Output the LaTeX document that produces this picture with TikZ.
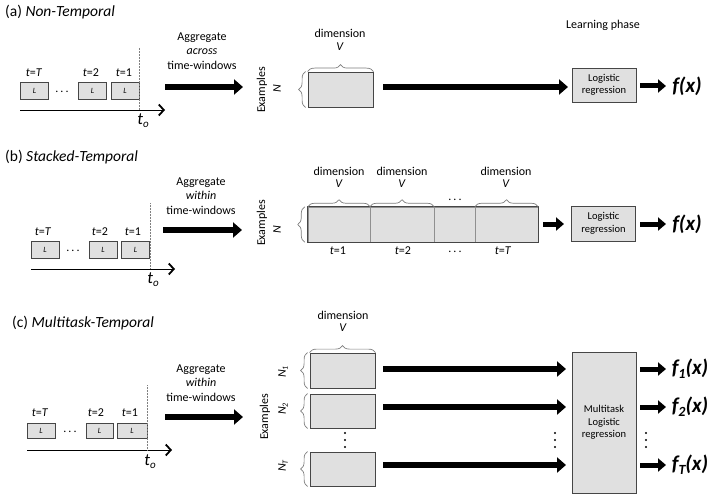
\documentclass[tikz,border=0pt]{standalone}
\usepackage{fontspec}
\setmainfont{Carlito}
\usetikzlibrary{arrows.meta,decorations.pathreplacing}
\definecolor{boxfill}{RGB}{224,224,224}
\definecolor{boxline}{RGB}{70,70,70}
\definecolor{bracegray}{RGB}{125,125,125}

\begin{document}
\begin{tikzpicture}[x=1pt, y=-1pt,
		every node/.style={inner sep=0pt},
		f12/.style={font=\fontsize{12}{14.5}\selectfont},
		title/.style={anchor=west, font=\fontsize{15.5}{18}\selectfont},
		lbox/.style={draw=boxline, fill=boxfill, line width=0.8pt, minimum width=28pt, minimum height=17pt, font=\fontsize{8}{9}\selectfont\itshape},
		dbox/.style={draw=boxline, fill=boxfill, line width=0.8pt, minimum width=65pt, minimum height=35pt},
		lrbox/.style={draw=boxline, fill=boxfill, line width=0.8pt, align=center, minimum width=64pt, minimum height=34pt, font=\fontsize{10.5}{12.5}\selectfont},
		brc/.style={draw=bracegray, line width=0.7pt, decorate, decoration={brace, amplitude=7pt}},
		axis/.style={line width=0.9pt, -{Straight Barb[length=5pt, width=11pt, line width=1.8pt]}},
		now/.style={gray, line width=0.5pt, densely dotted},
		tnow/.style={font=\fontsize{17}{17}\selectfont\itshape},
		fat/.style={line width=6pt, -{Triangle[length=9pt, width=15pt]}},
		fatsm/.style={line width=5pt, -{Triangle[length=8pt, width=13pt]}},
		fx/.style={font=\fontsize{21}{21}\selectfont\bfseries\itshape},
		vd/.style={minimum width=3pt, minimum height=16pt}]
	\useasboundingbox (0,0) rectangle (714,500);

	% (a) non-temporal
	\node[title] (tta) at (5,12) {(a) \textit{Non-Temporal}};
	\node[lbox] (a1) at (34.5,90.5) {L};
	\node[lbox] (a2) at (92.5,90.5) {L};
	\node[lbox] (a3) at (125,90.5) {L};
	\node[f12] (dta) at (62,92) {.\,.\,.};
	\node[f12] (a1t) at (34,73) {\textit{t}=\textit{T}};
	\node[f12] (a2t) at (91,73) {\textit{t}=2};
	\node[f12] (a3t) at (124,73) {\textit{t}=1};
	\coordinate (xa0) at (20,110);
	\coordinate (xa1) at (165,110);
	\coordinate (nowa) at (139,48);
	\draw[axis] (xa0) -- (xa1);
	\draw[now] (nowa) -- (nowa |- xa0);
	\node[tnow] (toa) at (143,121) {t\raisebox{-3pt}{\fontsize{11}{11}\selectfont o}};

	\node[f12, align=center] (aga) at (202,51) {Aggregate\\\textit{across}\\time-windows};
	\coordinate (ga0) at (165,87);
	\coordinate (ga1) at (243,87);
	\draw[fat] (ga0) -- (ga1);

	\node[f12, rotate=90] (exa) at (262,90) {Examples};
	\node[f12, rotate=90] (na) at (277,89) {\textit{N}};
	\node[dbox] (ra) at (340.5,89.5) {};
	\draw[brc] ([xshift=-2pt]ra.south west) -- ([xshift=-2pt]ra.north west);
	\draw[brc] (ra.north west) -- (ra.north east);
	\node[f12] (dima) at (340,33) {dimension};
	\node[f12] (va) at (340,47) {\textit{V}};

	\coordinate (la0) at (383,87);
	\coordinate (la1) at (568,87);
	\draw[fat] (la0) -- (la1);
	\node[f12] (lp) at (603,25) {Learning phase};
	\node[lrbox] (lra) at (604,85) {Logistic\\regression};
	\coordinate (fa0) at (640,86);
	\coordinate (fa1) at (666,86);
	\draw[fatsm] (fa0) -- (fa1);
	\node[fx] (fa) at (687,86) {f(x)};

	% (b) stacked-temporal
	\node[title] (ttb) at (5,157) {(b) \textit{Stacked-Temporal}};
	\node[lbox] (b1) at (45,249.5) {L};
	\node[lbox] (b2) at (103,249.5) {L};
	\node[lbox] (b3) at (135.5,249.5) {L};
	\node[f12] (dtb) at (73,251) {.\,.\,.};
	\node[f12] (b1t) at (43,232) {\textit{t}=\textit{T}};
	\node[f12] (b2t) at (100,232) {\textit{t}=2};
	\node[f12] (b3t) at (133,232) {\textit{t}=1};
	\coordinate (xb0) at (31,269);
	\coordinate (xb1) at (175,269);
	\coordinate (nowb) at (150,203);
	\draw[axis] (xb0) -- (xb1);
	\draw[now] (nowb) -- (nowb |- xb0);
	\node[tnow] (tob) at (153,280) {t\raisebox{-3pt}{\fontsize{11}{11}\selectfont o}};

	\node[f12, align=center] (agb) at (201,196) {Aggregate\\\textit{within}\\time-windows};
	\coordinate (gb0) at (163,230);
	\coordinate (gb1) at (242,230);
	\draw[fat] (gb0) -- (gb1);

	\node[f12, rotate=90] (exb) at (262,223) {Examples};
	\node[f12, rotate=90] (nb) at (277,230) {\textit{N}};
	\node[dbox, draw=boxline!60, line width=0.5pt, minimum width=62pt] (rb1) at (339,224.5) {};
	\node[dbox, draw=boxline!60, line width=0.5pt, minimum width=64pt] (rb2) at (402,224.5) {};
	\node[dbox, draw=boxline!60, line width=0.5pt, minimum width=41pt] (rb3) at (454.5,224.5) {};
	\node[dbox, draw=boxline!60, line width=0.5pt, minimum width=63pt] (rb4) at (506.5,224.5) {};
	\draw[boxline, line width=0.8pt] (rb1.north west) rectangle (rb4.south east);
	\draw[brc] ([xshift=-3pt]rb1.south west) -- ([xshift=-3pt]rb1.north west);
	\draw[brc] (rb1.north west) -- (rb1.north east);
	\draw[brc] (rb2.north west) -- (rb2.north east);
	\draw[brc] (rb4.north west) -- (rb4.north east);
	\node[f12] (dimb1) at (339,171) {dimension};
	\node[f12] (vb1) at (339,184) {\textit{V}};
	\node[f12] (dimb2) at (402,171) {dimension};
	\node[f12] (vb2) at (402,184) {\textit{V}};
	\node[f12] (dimb4) at (506,171) {dimension};
	\node[f12] (vb4) at (506,184) {\textit{V}};
	\node[f12] (dtb2) at (455,200) {.\,.\,.};
	\node[f12] (sb1) at (338,251) {\textit{t}=1};
	\node[f12] (sb2) at (403,251) {\textit{t}=2};
	\node[f12] (dtb3) at (455,252) {.\,.\,.};
	\node[f12] (sb4) at (503,251) {\textit{t}=\textit{T}};

	\coordinate (lb0) at (543,224);
	\coordinate (lb1) at (564,224);
	\draw[fatsm] (lb0) -- (lb1);
	\node[lrbox, minimum height=35pt] (lrb) at (603.5,223.5) {Logistic\\regression};
	\coordinate (fb0) at (640,224);
	\coordinate (fb1) at (666,224);
	\draw[fatsm] (fb0) -- (fb1);
	\node[fx] (fb) at (687,224) {f(x)};

	% (c) multitask-temporal
	\node[title] (ttc) at (12,323) {(c) \textit{Multitask-Temporal}};
	\node[lbox, minimum height=15pt] (c1) at (41,430.5) {L};
	\node[lbox, minimum height=15pt, minimum width=27pt] (c2) at (99.5,430.5) {L};
	\node[lbox, minimum height=15pt, minimum width=30pt] (c3) at (132,430.5) {L};
	\node[f12] (dtc) at (70,432) {.\,.\,.};
	\node[f12] (c1t) at (40,413) {\textit{t}=\textit{T}};
	\node[f12] (c2t) at (96,413) {\textit{t}=2};
	\node[f12] (c3t) at (130,413) {\textit{t}=1};
	\coordinate (xc0) at (27,450);
	\coordinate (xc1) at (172,450);
	\coordinate (nowc) at (147,385);
	\draw[axis] (xc0) -- (xc1);
	\draw[now] (nowc) -- (nowc |- xc0);
	\node[tnow] (toc) at (150,462) {t\raisebox{-3pt}{\fontsize{11}{11}\selectfont o}};

	\node[f12, align=center] (agc) at (201,383) {Aggregate\\\textit{within}\\time-windows};
	\coordinate (gc0) at (165,417);
	\coordinate (gc1) at (243,417);
	\draw[fat] (gc0) -- (gc1);

	\node[f12, rotate=90] (exc) at (265,417) {Examples};
	\node[dbox] (rc1) at (342.5,370.5) {};
	\node[dbox, minimum height=34pt] (rc2) at (342.5,411) {};
	\node[dbox, minimum height=34pt] (rc3) at (342.5,469) {};
	\draw[brc] ([xshift=-2pt]rc1.south west) -- ([xshift=-2pt]rc1.north west);
	\draw[brc] ([xshift=-2pt]rc2.south west) -- ([xshift=-2pt]rc2.north west);
	\draw[brc] ([xshift=-2pt]rc3.south west) -- ([xshift=-2pt]rc3.north west);
	\draw[brc] (rc1.north west) -- (rc1.north east);
	\node[f12] (dimc) at (343,315) {dimension};
	\node[f12] (vc) at (343,328) {\textit{V}};
	\node[f12, rotate=90] (nc1) at (283,372) {\textit{N}\raisebox{-2pt}{\fontsize{8}{8}\selectfont\itshape 1}};
	\node[f12, rotate=90] (nc2) at (283,409) {\textit{N}\raisebox{-2pt}{\fontsize{8}{8}\selectfont\itshape 2}};
	\node[f12, rotate=90] (nc3) at (283,466) {\textit{N}\raisebox{-2pt}{\fontsize{8}{8}\selectfont\itshape T}};

	\node[lrbox, minimum height=141pt] (mt) at (604,422.5) {Multitask\\Logistic\\regression};
	\coordinate (lc10) at (383,369);
	\coordinate (lc11) at (566,369);
	\coordinate (lc20) at (383,407);
	\coordinate (lc21) at (566,407);
	\coordinate (lc30) at (383,465);
	\coordinate (lc31) at (566,465);
	\draw[fat] (lc10) -- (lc11);
	\draw[fat] (lc20) -- (lc21);
	\draw[fat] (lc30) -- (lc31);

	\coordinate (fc10) at (640,369);
	\coordinate (fc11) at (666,369);
	\coordinate (fc20) at (640,407);
	\coordinate (fc21) at (666,407);
	\coordinate (fc30) at (640,465);
	\coordinate (fc31) at (666,465);
	\draw[fatsm] (fc10) -- (fc11);
	\draw[fatsm] (fc20) -- (fc21);
	\draw[fatsm] (fc30) -- (fc31);
	\node[fx] (fc1) at (690,369) {f\raisebox{-4pt}{\fontsize{14}{14}\selectfont 1}(x)};
	\node[fx] (fc2) at (690,407) {f\raisebox{-4pt}{\fontsize{14}{14}\selectfont 2}(x)};
	\node[fx] (fc3) at (690,465) {f\raisebox{-4pt}{\fontsize{14}{14}\selectfont T}(x)};

	% vertical dots
	\node[vd] (vdc) at (345,440) {};
	\node[vd] (vdl) at (555,440) {};
	\node[vd] (vdf) at (646,440) {};
	\foreach \v in {vdc, vdl, vdf} {
		\fill (\v.north) ++(0,1.2) circle (1.1pt);
		\fill (\v.center) circle (1.1pt);
		\fill (\v.south) ++(0,-1.2) circle (1.1pt);
	}
\end{tikzpicture}
\end{document}
